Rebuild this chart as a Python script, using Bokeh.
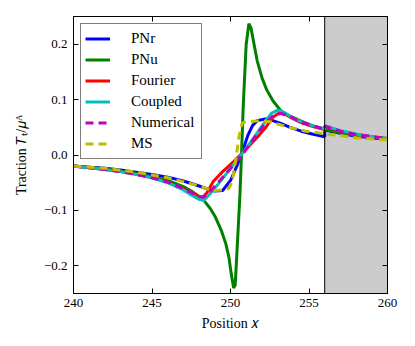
from bokeh.plotting import figure
from bokeh.models import Range1d, LinearAxis, BoxAnnotation, Span, Legend, LegendItem, FixedTicker
from bokeh.embed import file_html
from bokeh.resources import INLINE

# ---- data ----
pnr_x = [240, 241, 242, 243, 244, 245, 246, 247, 248, 248.5, 249, 249.5, 250, 250.4, 250.75,
         251.1, 251.4, 251.7, 252.2, 252.7, 253.2, 253.8, 254.5, 255.2, 256,
         256, 257, 258, 259, 260]
pnr_y = [-0.020, -0.022, -0.024, -0.027, -0.031, -0.035, -0.040, -0.047, -0.056, -0.061, -0.065, -0.064,
         -0.046, -0.020, 0.005, 0.035, 0.053, 0.062, 0.065, 0.062, 0.057, 0.050, 0.043, 0.038, 0.033,
         0.045, 0.039, 0.034, 0.031, 0.028]

pnu_x = [240, 242, 244, 246, 247, 247.5, 248, 248.3, 248.7, 249.0, 249.4, 249.7, 249.9, 250.05, 250.2,
         250.3, 250.43, 250.6, 250.7, 250.8, 250.88, 251.0, 251.17, 251.3, 251.5, 251.7, 252.0, 252.3,
         252.7, 253.2, 253.8, 254.5, 255.2, 256, 257, 258, 259, 260]
pnu_y = [-0.020, -0.025, -0.033, -0.046, -0.057, -0.065, -0.075, -0.082, -0.096, -0.110, -0.135, -0.160,
         -0.185, -0.215, -0.240, -0.235, -0.165, -0.072, 0.000, 0.080, 0.130, 0.200, 0.237, 0.230, 0.200,
         0.170, 0.140, 0.118, 0.098, 0.080, 0.070, 0.061, 0.053, 0.046, 0.040, 0.035, 0.032, 0.029]

fourier_x = [240, 242, 243, 244, 245, 246, 247, 247.5, 248, 248.2, 248.5, 248.9, 249.5, 250.2, 250.7,
             251.3, 251.8, 252.3, 252.7, 253.1, 253.5, 254.0, 254.6, 255.3, 256,
             256, 257, 258, 259, 260]
fourier_y = [-0.020, -0.026, -0.030, -0.035, -0.041, -0.049, -0.061, -0.068, -0.075, -0.077, -0.068,
             -0.048, -0.030, -0.012, 0.002, 0.020, 0.035, 0.052, 0.068, 0.076, 0.073, 0.065, 0.057,
             0.051, 0.046, 0.052, 0.043, 0.037, 0.033, 0.030]

coupled_x = [240, 242, 243, 244, 245, 246, 247, 247.5, 248, 248.3, 248.7, 249.2, 249.7, 250.2, 250.7,
             251.2, 251.7, 252.2, 252.6, 253.0, 253.4, 253.9, 254.5, 255.2, 256,
             256, 257, 258, 259, 260]
coupled_y = [-0.020, -0.026, -0.030, -0.035, -0.041, -0.050, -0.063, -0.072, -0.080, -0.082, -0.070,
             -0.053, -0.035, -0.017, 0.001, 0.020, 0.040, 0.060, 0.075, 0.081, 0.077, 0.068, 0.060,
             0.053, 0.047, 0.053, 0.044, 0.038, 0.033, 0.030]

numerical_x = [240, 242, 243, 244, 245, 246, 247, 247.5, 248, 248.3, 248.7, 249.2, 249.7, 250.2, 250.7,
               251.2, 251.7, 252.2, 252.7, 253.2, 253.7, 254.3, 255.0, 255.6, 256,
               256, 257, 258, 259, 260]
numerical_y = [-0.020, -0.026, -0.030, -0.035, -0.041, -0.049, -0.061, -0.068, -0.075, -0.076, -0.066,
               -0.050, -0.034, -0.018, -0.001, 0.018, 0.038, 0.057, 0.070, 0.075, 0.071, 0.062, 0.055,
               0.050, 0.046, 0.052, 0.043, 0.037, 0.033, 0.030]

ms_x = [240, 242, 244, 246, 247, 248, 248.5, 249, 249.5, 249.9, 250.1, 250.25, 250.4, 250.55, 250.75,
        251, 251.5, 252, 252.5, 253, 253.6, 254.2, 254.8, 255.4, 256, 257, 258, 259, 260]
ms_y = [-0.020, -0.024, -0.031, -0.041, -0.048, -0.056, -0.061, -0.064, -0.063, -0.060, -0.048, -0.025,
        0.005, 0.035, 0.058, 0.060, 0.061, 0.062, 0.060, 0.056, 0.051, 0.047, 0.043, 0.041, 0.038,
        0.035, 0.031, 0.029, 0.027]

wall_x = 256
x_ticks = [240, 245, 250, 255, 260]
y_ticks = [-0.2, -0.1, 0.0, 0.1, 0.2]
y_labels = {-0.2: "\u22120.2", -0.1: "\u22120.1", 0.0: "0.0", 0.1: "0.1", 0.2: "0.2"}

FONT = "Liberation Serif"

p = figure(output_backend="svg", toolbar_location=None,
           frame_width=314, frame_height=277,
           min_border_left=73, min_border_right=20, min_border_top=16, min_border_bottom=45,
           x_range=Range1d(240, 260), y_range=Range1d(-0.25, 0.25))
p.background_fill_color = "white"
p.border_fill_color = "white"
p.outline_line_color = "black"
p.outline_line_width = 1
p.grid.visible = False

gray = BoxAnnotation(left=wall_x, right=260, fill_color="#cccccc", fill_alpha=1.0, line_alpha=0, level="underlay")
p.add_layout(gray)

lw = 3
r_pnr = p.line(pnr_x, pnr_y, line_color="#0000ff", line_width=lw)
r_pnu = p.line(pnu_x, pnu_y, line_color="#008000", line_width=lw)
r_fou = p.line(fourier_x, fourier_y, line_color="#ff0000", line_width=lw)
r_cou = p.line(coupled_x, coupled_y, line_color="#00bfbf", line_width=lw)
r_num = p.line(numerical_x, numerical_y, line_color="#bf00bf", line_width=lw, line_dash="8 5")
r_ms = p.line(ms_x, ms_y, line_color="#bfbf00", line_width=lw, line_dash="8 5")

p.add_layout(Span(location=wall_x, dimension="height", line_color="black", line_width=1))

for ax in (p.xaxis[0], p.yaxis[0]):
    ax.major_tick_in = 5
    ax.major_tick_out = 0
    ax.minor_tick_in = 0
    ax.minor_tick_out = 0
    ax.axis_line_color = "black"
    ax.major_label_text_font = FONT
    ax.major_label_text_font_size = "13px"
    ax.major_label_text_color = "black"
    ax.axis_label_text_font = FONT
    ax.axis_label_text_font_size = "14px"
    ax.axis_label_text_font_style = "normal"
    ax.axis_label_text_color = "black"

p.xaxis[0].ticker = FixedTicker(ticks=x_ticks)
p.yaxis[0].ticker = FixedTicker(ticks=y_ticks)
p.yaxis[0].major_label_overrides = y_labels
p.xaxis[0].major_label_standoff = 5
p.yaxis[0].major_label_standoff = 6
p.xaxis[0].axis_label = "Position \U0001D465"
p.yaxis[0].axis_label = "Traction \U0001D447\u209C/\U0001D707\u1D2C"
p.xaxis[0].axis_label_standoff = 6
p.yaxis[0].axis_label_standoff = 12

for loc, tick in (("right", y_ticks), ("above", x_ticks)):
    a = LinearAxis(ticker=FixedTicker(ticks=tick), major_tick_in=5, major_tick_out=0,
                   minor_tick_in=0, minor_tick_out=0,
                   major_label_overrides={t: "" for t in tick},
                   major_label_standoff=0, axis_line_color="black")
    p.add_layout(a, loc)

legend = Legend(items=[
    LegendItem(label="PNr", renderers=[r_pnr]),
    LegendItem(label="PNu", renderers=[r_pnu]),
    LegendItem(label="Fourier", renderers=[r_fou]),
    LegendItem(label="Coupled", renderers=[r_cou]),
    LegendItem(label="Numerical", renderers=[r_num]),
    LegendItem(label="MS", renderers=[r_ms]),
], location="top_left")
legend.margin = 7
legend.padding = 4
legend.spacing = 0
legend.glyph_width = 25
legend.glyph_height = 21
legend.label_height = 21
legend.label_width = 66
legend.label_standoff = 21
legend.label_text_font = FONT
legend.label_text_font_size = "15px"
legend.label_text_color = "black"
legend.border_line_color = "black"
legend.border_line_width = 1
legend.background_fill_alpha = 1.0
p.add_layout(legend)

open("out.html", "w").write(file_html(p, INLINE))
